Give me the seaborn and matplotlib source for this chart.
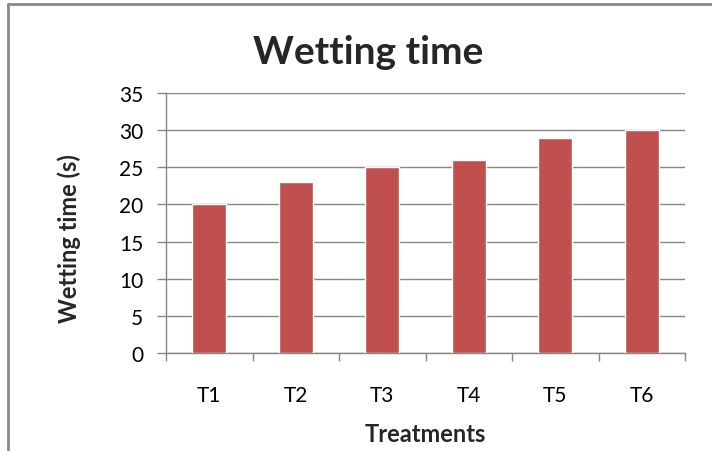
import matplotlib
matplotlib.use("Agg")
import matplotlib.pyplot as plt
from matplotlib.lines import Line2D
import seaborn as sns
import pandas as pd

treatments = ["T1", "T2", "T3", "T4", "T5", "T6"]
wetting_time = [20, 23, 25, 26, 29, 30]
y_ticks = [0, 5, 10, 15, 20, 25, 30, 35]

sns.set_theme(style="white")
plt.rcParams["font.family"] = ["Lato", "DejaVu Sans"]

df = pd.DataFrame({"Treatments": treatments, "Wetting time (s)": wetting_time})

W, H = 712, 452
GRID = "#868686"
fig = plt.figure(figsize=(W / 100, H / 100), dpi=100)
# plot area in pixels: x 166..685, y 94..354
ax = fig.add_axes([166 / W, 1 - 354 / H, (685 - 166) / W, (354 - 94) / H])

sns.barplot(data=df, x="Treatments", y="Wetting time (s)", color="#C0504D",
            saturation=1, width=0.39, ax=ax, zorder=3)

ax.set_ylim(0, 35)
ax.set_xlim(-0.5, 5.5)
ax.set_yticks(y_ticks)
ax.yaxis.grid(True, color=GRID, linewidth=1.0, zorder=0)
ax.set_axisbelow(True)
for side in ["top", "right"]:
    ax.spines[side].set_visible(False)
for side in ["left", "bottom"]:
    ax.spines[side].set_color(GRID)
    ax.spines[side].set_linewidth(1.0)

ax.tick_params(axis="y", which="both", left=True, length=6.5, width=1.0,
               color=GRID, labelsize=15, pad=10, labelcolor="#000000")
ax.tick_params(axis="x", which="major", bottom=False, labelsize=15, pad=17,
               labelcolor="#000000")
# category boundary ticks hanging below the axis
ax.set_xticks([i - 0.5 for i in range(len(treatments) + 1)], minor=True)
ax.tick_params(axis="x", which="minor", bottom=True, length=6, width=1.0,
               color=GRID)

ax.set_xlabel("Treatments", fontsize=17, fontweight="bold")
ax.xaxis.label.set_va("baseline")
ax.xaxis.set_label_coords(0.5, (354 - 442) / 260)
ax.set_ylabel("Wetting time (s)", fontsize=17, fontweight="bold")
ax.yaxis.label.set_va("center")
ax.yaxis.set_label_coords((69 - 166) / 519, (354 - 239) / 260)

fig.text(368 / W, 1 - 64 / H, "Wetting time", ha="center", va="baseline",
         fontsize=28, fontweight="bold")

# chart frame edges
fig.add_artist(Line2D([8 / W, 1], [1 - 5 / H, 1 - 5 / H], transform=fig.transFigure,
                      color="#8A8A8A", linewidth=2))
fig.add_artist(Line2D([8 / W, 8 / W], [0, 1 - 5 / H], transform=fig.transFigure,
                      color="#8A8A8A", linewidth=2))

fig.savefig("out.png", dpi=100, facecolor="white")
